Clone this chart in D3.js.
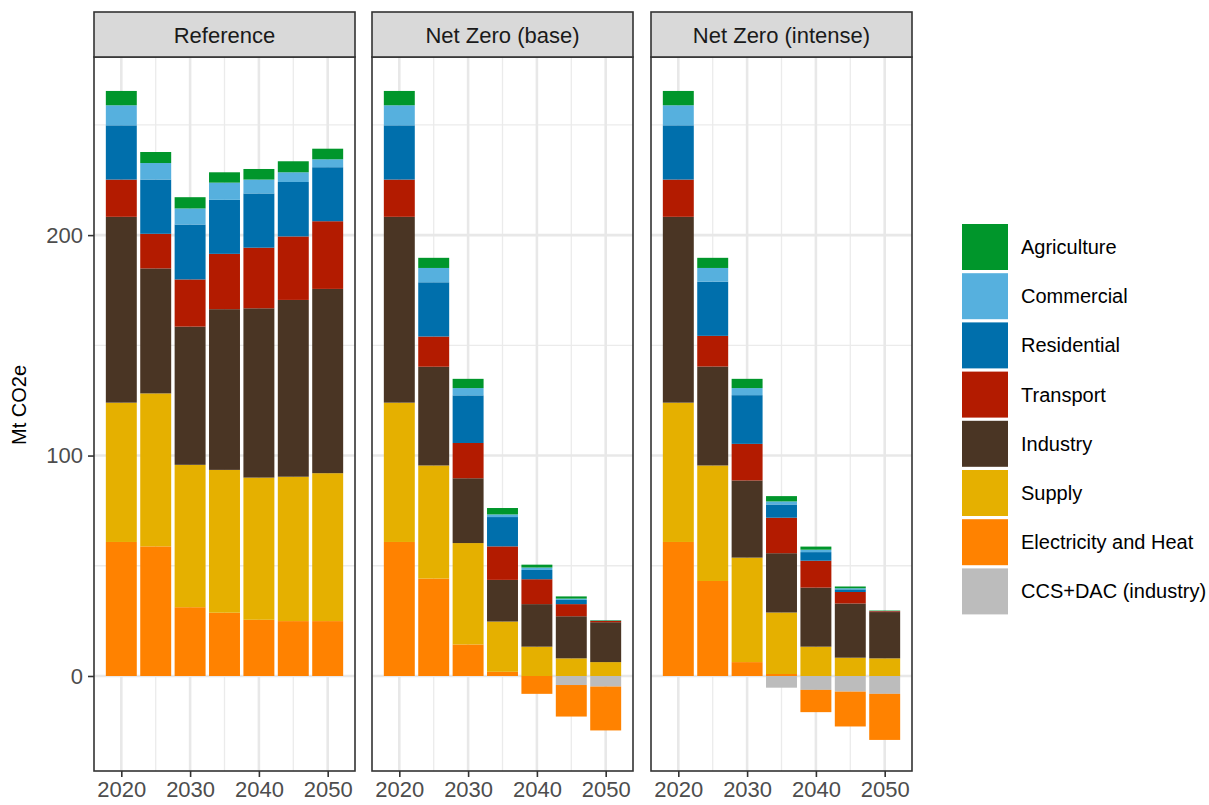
<!DOCTYPE html>
<html>
<head>
    <meta charset="utf-8" />
    <title>Emissions by sector</title>
    <script src="https://d3js.org/d3.v7.min.js"></script>
    <style>
        body { margin: 0; background: white; }
        text { font-family: "Liberation Sans", Arial, sans-serif; }
    </style>
</head>
<body>
<svg width="1209" height="805"></svg>
<script>
const years = [2020, 2025, 2030, 2035, 2040, 2045, 2050];
const scenarios = ["Reference", "Net Zero (base)", "Net Zero (intense)"];
const sectors = ["Agriculture", "Commercial", "Residential", "Transport", "Industry",
                 "Supply", "Electricity and Heat", "CCS+DAC (industry)"];
const colors = ["#00962b", "#56b0de", "#006fac", "#b31b00", "#4a3524",
                "#e5b000", "#ff8200", "#bcbcbc"];
const yTicks = [0, 100, 200];
const xTicks = [2020, 2030, 2040, 2050];

// Reference
const refAgri      = [6.5, 5.0, 5.1, 4.7, 4.8, 5.0, 4.8];
const refComm      = [9.1, 7.5, 7.3, 7.8, 6.3, 4.4, 3.6];
const refResid     = [24.6, 24.6, 24.9, 24.5, 24.6, 24.7, 24.5];
const refTransport = [16.9, 15.7, 21.4, 25.1, 27.5, 28.8, 30.7];
const refIndustry  = [84.3, 56.7, 62.7, 72.9, 76.8, 80.2, 83.6];
const refSupply    = [63.2, 69.4, 64.6, 64.8, 64.5, 65.5, 67.1];
const refElec      = [60.8, 58.8, 31.2, 28.7, 25.5, 24.9, 24.9];
const refCcs       = [0, 0, 0, 0, 0, 0, 0];

// Net Zero (base)
const baseAgri      = [6.5, 4.6, 4.2, 2.9, 1.3, 1.0, 0.2];
const baseComm      = [9.1, 6.5, 3.3, 1.2, 1.1, 0.6, 0.05];
const baseResid     = [24.6, 24.6, 21.6, 13.3, 4.2, 1.9, 0.1];
const baseTransport = [16.9, 13.7, 16.0, 15.2, 11.3, 5.5, 0.6];
const baseIndustry  = [84.3, 44.8, 29.4, 18.9, 19.3, 19.1, 18.1];
const baseSupply    = [63.2, 51.3, 46.0, 22.8, 13.3, 8.0, 6.3];
const baseElec      = [60.8, 44.2, 14.3, 1.9, -8.1, -14.3, -19.9];
const baseCcs       = [0, 0, 0, 0, 0, -4.1, -4.8];

// Net Zero (intense)
const intAgri      = [6.5, 4.6, 4.2, 2.4, 1.4, 0.8, 0.2];
const intComm      = [9.1, 6.2, 3.2, 1.4, 1.1, 0.5, 0.05];
const intResid     = [24.6, 24.6, 22.1, 6.0, 3.9, 1.2, 0.05];
const intTransport = [16.9, 13.9, 16.6, 16.1, 12.2, 5.2, 0.4];
const intIndustry  = [84.3, 44.9, 35.0, 26.9, 26.8, 24.6, 21.0];
const intSupply    = [63.2, 52.4, 47.4, 27.9, 13.3, 8.3, 8.0];
const intElec      = [60.8, 43.1, 6.3, 0.9, -10.1, -15.8, -20.9];
const intCcs       = [0, 0, 0, -5.3, -6.3, -7.1, -8.1];

const table = [
    [refAgri, refComm, refResid, refTransport, refIndustry, refSupply, refElec, refCcs],
    [baseAgri, baseComm, baseResid, baseTransport, baseIndustry, baseSupply, baseElec, baseCcs],
    [intAgri, intComm, intResid, intTransport, intIndustry, intSupply, intElec, intCcs]
];

const svg = d3.select('svg');
const panelLeft = [94, 372, 651];
const panelW = 261;
const stripTop = 12, plotTop = 57, plotBottom = 771;
const fontFam = '"Liberation Sans", Arial, sans-serif';

const yscale = d3.scaleLinear().domain([-43.1, 280.8]).range([plotBottom, plotTop]);
const xscale = d3.scaleLinear().domain([2016.03, 2053.97]).range([0, panelW]);
const barW = xscale(2024.5) - xscale(2020);

// stack: last sector sits nearest zero, like ggplot position_stack
const stackBars = s => {
    const out = [];
    years.forEach((yr, i) => {
        let pos = 0, neg = 0;
        for (let k = sectors.length - 1; k >= 0; k--) {
            const v = table[s][k][i];
            if (v === 0) continue;
            if (v > 0) { out.push({year: yr, k: k, y0: pos, y1: pos + v}); pos += v; }
            else { out.push({year: yr, k: k, y0: neg + v, y1: neg}); neg += v; }
        }
    });
    return out;
};

scenarios.forEach((name, s) => {
    const g = svg.append('g').attr('transform', "translate(" + panelLeft[s] + ",0)");

    g.append('rect').attr('x', 0).attr('y', plotTop).attr('width', panelW)
        .attr('height', plotBottom - plotTop).attr('fill', 'white');

    // minor grid
    g.selectAll('.minx').data([2025, 2035, 2045]).enter().append('line')
        .attr('x1', d => xscale(d)).attr('x2', d => xscale(d))
        .attr('y1', plotTop).attr('y2', plotBottom)
        .attr('stroke', '#ebebeb').attr('stroke-width', 1.3);
    g.selectAll('.miny').data([50, 150, 250]).enter().append('line')
        .attr('y1', d => yscale(d)).attr('y2', d => yscale(d))
        .attr('x1', 0).attr('x2', panelW)
        .attr('stroke', '#ebebeb').attr('stroke-width', 1.3);
    // major grid
    g.selectAll('.majx').data(xTicks).enter().append('line')
        .attr('x1', d => xscale(d)).attr('x2', d => xscale(d))
        .attr('y1', plotTop).attr('y2', plotBottom)
        .attr('stroke', '#e8e8e8').attr('stroke-width', 2.6);
    g.selectAll('.majy').data(yTicks).enter().append('line')
        .attr('y1', d => yscale(d)).attr('y2', d => yscale(d))
        .attr('x1', 0).attr('x2', panelW)
        .attr('stroke', '#e8e8e8').attr('stroke-width', 2.6);

    g.selectAll('.bar').data(stackBars(s)).enter().append('rect')
        .attr('x', d => xscale(d.year) - barW / 2)
        .attr('width', barW)
        .attr('y', d => yscale(d.y1))
        .attr('height', d => yscale(d.y0) - yscale(d.y1))
        .attr('fill', d => colors[d.k]);

    g.append('rect').attr('x', 0).attr('y', plotTop).attr('width', panelW)
        .attr('height', plotBottom - plotTop)
        .attr('fill', 'none').attr('stroke', '#333333').attr('stroke-width', 1.6);

    // strip
    g.append('rect').attr('x', 0).attr('y', stripTop).attr('width', panelW)
        .attr('height', plotTop - stripTop)
        .attr('fill', '#d9d9d9').attr('stroke', '#333333').attr('stroke-width', 1.6);
    g.append('text').attr('x', panelW / 2).attr('y', (stripTop + plotTop) / 2 + 8)
        .attr('text-anchor', 'middle').attr('font-size', 22).attr('fill', '#1a1a1a')
        .text(name);

    // x axis
    const xaxisG = g.append('g').attr('transform', "translate(0," + plotBottom + ")")
        .call(d3.axisBottom(xscale).tickValues(xTicks).tickFormat(d3.format('d'))
            .tickSize(6).tickPadding(4));
    xaxisG.select('.domain').remove();
    xaxisG.selectAll('line').attr('stroke', '#333333').attr('stroke-width', 1.6);
    xaxisG.selectAll('text').attr('font-size', 22).attr('fill', '#4d4d4d')
        .style('font-family', fontFam);
});

// y axis on first panel
const yaxisG = svg.append('g').attr('transform', "translate(" + panelLeft[0] + ",0)")
    .call(d3.axisLeft(yscale).tickValues(yTicks).tickSize(6).tickPadding(5));
yaxisG.select('.domain').remove();
yaxisG.selectAll('line').attr('stroke', '#333333').attr('stroke-width', 1.6);
yaxisG.selectAll('text').attr('font-size', 22).attr('fill', '#4d4d4d')
    .style('font-family', fontFam);

svg.append('text')
    .attr('transform', "translate(26,405) rotate(-90)")
    .attr('text-anchor', 'middle').attr('font-size', 20).attr('fill', 'black')
    .text('Mt CO2e');

// legend
const legend = svg.append('g').attr('transform', "translate(962,224)");
const items = legend.selectAll('.item').data(sectors).enter().append('g')
    .attr('transform', (d, i) => "translate(0," + (i * 49.2) + ")");
items.append('rect').attr('width', 46).attr('height', 46)
    .attr('fill', (d, i) => colors[i]);
items.append('text').attr('x', 59).attr('y', 23).attr('dy', '0.35em')
    .attr('font-size', 20).attr('fill', 'black')
    .text(d => d);
</script>
</body>
</html>
